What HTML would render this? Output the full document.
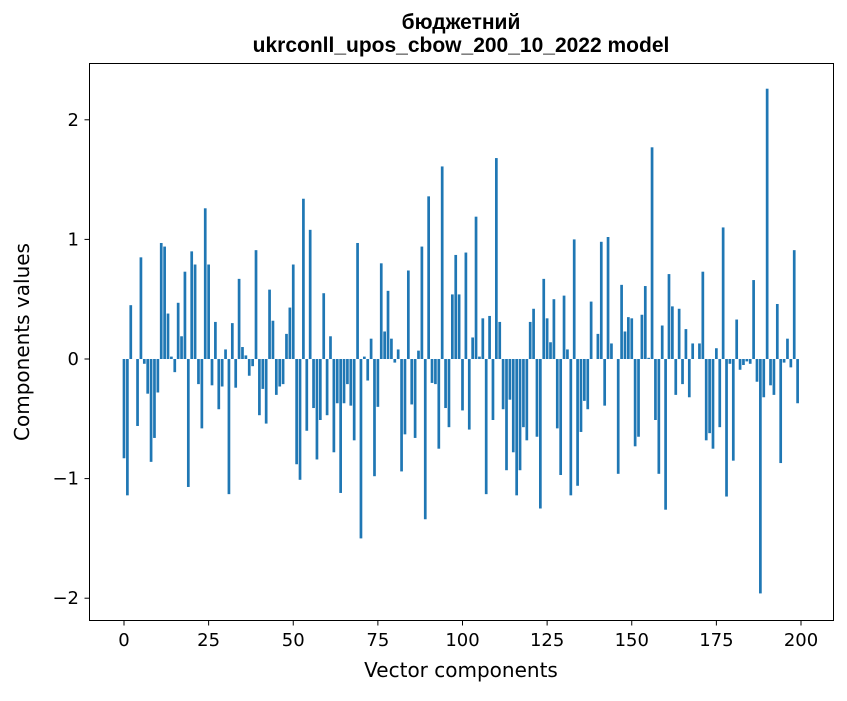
<!DOCTYPE html>
<html><head><meta charset="utf-8"><style>
body{margin:0;background:#fff;font-family:"Liberation Sans","DejaVu Sans",sans-serif;}
svg text{font-family:"DejaVu Sans","Liberation Sans",sans-serif;}
svg text.ttl{font-family:"Liberation Sans","DejaVu Sans",sans-serif;}
</style></head><body>
<svg id="chart" width="847" height="696" xmlns="http://www.w3.org/2000/svg">
<rect width="847" height="696" fill="#fff"/>
<text class="ttl" x="461" y="29" text-anchor="middle" font-size="21" font-weight="bold">бюджетний</text>
<text class="ttl" x="461" y="52" text-anchor="middle" font-size="21" font-weight="bold">ukrconll_upos_cbow_200_10_2022 model</text>
<g id="bars"></g>
<rect x="89.5" y="63.5" width="744" height="557" fill="none" stroke="#000" stroke-width="1"/>
<g id="xt"></g>
<g id="yt"></g>
<text x="461" y="677" text-anchor="middle" font-size="20">Vector components</text>
<text transform="translate(29,342) rotate(-90)" text-anchor="middle" font-size="20">Components values</text>
</svg>
<script>
const values = [-0.83,-1.14,0.45,0,-0.56,0.85,-0.04,-0.29,-0.86,-0.66,-0.28,0.97,0.94,0.38,0.02,-0.11,0.47,0.19,0.73,-1.07,
0.9,0.79,-0.21,-0.58,1.26,0.79,-0.22,0.31,-0.42,-0.23,0.08,-1.13,0.3,-0.24,0.67,0.1,0.03,-0.14,-0.06,0.91,
-0.47,-0.25,-0.54,0.58,0.32,-0.3,-0.23,-0.21,0.21,0.43,0.79,-0.88,-1.01,1.34,-0.6,1.08,-0.41,-0.84,-0.51,0.55,
-0.47,0.19,-0.78,-0.37,-1.12,-0.37,-0.21,-0.39,-0.68,0.97,-1.5,0.02,-0.18,0.17,-0.98,-0.4,0.8,0.23,0.57,0.17,
-0.03,0.08,-0.94,-0.63,0.74,-0.38,-0.66,0.07,0.94,-1.34,1.36,-0.2,-0.21,-0.75,1.61,-0.41,-0.57,0.54,0.87,0.54,
-0.43,0.89,-0.59,0.18,1.19,0.02,0.34,-1.13,0.36,-0.51,1.68,0.31,-0.42,-0.93,-0.34,-0.78,-1.14,-0.93,-0.57,-0.68,
0.31,0.42,-0.65,-1.25,0.67,0.34,0.14,0.5,-0.58,-0.97,0.53,0.08,-1.14,1.0,-1.06,-0.61,-0.35,-0.42,0.48,0,
0.21,0.98,-0.39,1.02,0.13,0,-0.96,0.62,0.23,0.35,0.34,-0.73,-0.65,0.37,0.61,0.01,1.77,-0.51,-0.96,0.28,
-1.26,0.71,0.44,-0.3,0.42,-0.21,0.25,-0.32,0.13,0,0.13,0.73,-0.68,-0.62,-0.75,0.09,-0.57,1.1,-1.15,-0.04,
-0.85,0.33,-0.09,-0.05,-0.02,-0.04,0.66,-0.19,-1.96,-0.32,2.26,-0.22,-0.3,0.46,-0.87,-0.03,0.17,-0.07,0.91,-0.37];
const xTicks = [0,25,50,75,100,125,150,175,200];
const yTicks = [-2,-1,0,1,2];
const yTickLabels = ["\u22122","\u22121","0","1","2"];
const NS="http://www.w3.org/2000/svg";
const xs = v => 124 + v*3.385;
const ys = v => 359 - v*119.6;
const bars = document.getElementById('bars');
values.forEach((v,i)=>{
  const r=document.createElementNS(NS,'rect');
  
  
  const x0=xs(i-0.4), x1=xs(i+0.4);
  r.setAttribute('x',x0); r.setAttribute('width',x1-x0);
  r.setAttribute('y',Math.min(ys(v),ys(0))); r.setAttribute('height',Math.abs(ys(v)-ys(0)));
  r.setAttribute('fill','#1f77b4');
  bars.appendChild(r);
});
const xt=document.getElementById('xt');
xTicks.forEach(t=>{
  const l=document.createElementNS(NS,'line');
  
  
  l.setAttribute('x1',xs(t)); l.setAttribute('x2',xs(t)); l.setAttribute('y1',620.5); l.setAttribute('y2',625.5);
  l.setAttribute('stroke','#000'); xt.appendChild(l);
  const tx=document.createElementNS(NS,'text');
  
  
  tx.setAttribute('x',xs(t)); tx.setAttribute('y',646); tx.setAttribute('text-anchor','middle'); tx.setAttribute('font-size','18');
  tx.textContent=t; xt.appendChild(tx);
});
const yt=document.getElementById('yt');
yTicks.forEach((t,i)=>{
  const l=document.createElementNS(NS,'line');
  
  
  l.setAttribute('x1',84.5); l.setAttribute('x2',89.5); l.setAttribute('y1',ys(t)); l.setAttribute('y2',ys(t));
  l.setAttribute('stroke','#000'); yt.appendChild(l);
  const tx=document.createElementNS(NS,'text');
  
  
  tx.setAttribute('x',79); tx.setAttribute('y',ys(t)+6); tx.setAttribute('text-anchor','end'); tx.setAttribute('font-size','18');
  tx.textContent=yTickLabels[i]; yt.appendChild(tx);
});
</script>
</body></html>
